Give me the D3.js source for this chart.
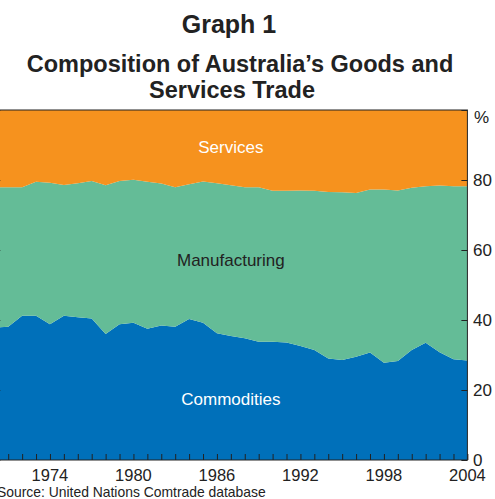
<!DOCTYPE html>
<html><head><meta charset="utf-8">
<script src="https://cdn.jsdelivr.net/npm/d3@7"></script>
<style>
body{margin:0;background:#fff;overflow:hidden}
text{font-family:"Liberation Sans",Arial,sans-serif;fill:#222}
</style></head>
<body><svg id="chart"></svg>
<script>
// shares of total trade, per cent
const years=d3.range(1970,2005);
const commodities=[37.8,38.1,41.2,41.2,38.8,41.2,40.8,40.4,36.0,38.8,39.2,37.5,38.4,38.1,40.3,39.2,36.2,35.4,34.8,33.8,33.8,33.6,32.6,31.4,29.0,28.6,29.5,30.7,27.8,28.3,31.4,33.5,30.8,28.8,28.4];
const manufacturing=[40.1,39.8,36.7,38.3,40.4,37.4,38.3,39.3,42.5,40.9,40.9,42.0,40.6,39.8,38.5,40.4,42.9,43.1,43.1,44.1,43.1,43.3,44.4,45.5,47.6,47.9,46.8,46.6,49.5,48.7,46.4,44.7,47.6,49.4,49.8];
const services=[22.1,22.1,22.1,20.5,20.8,21.4,20.9,20.3,21.5,20.3,19.9,20.5,21.0,22.1,21.2,20.4,20.9,21.5,22.1,22.1,23.1,23.1,23.0,23.1,23.4,23.5,23.7,22.7,22.7,23.0,22.2,21.8,21.6,21.8,21.8];
const seriesNames=['Commodities','Manufacturing','Services'];
const yTicks=[0,20,40,60,80,100];
const yearLabels=[1974,1980,1986,1992,1998,2004];

const W=495,H=499;
const svg=d3.select('#chart').attr('width',W).attr('height',H);
const x=d3.scaleLinear().domain([1970,2004]).range([-5.7,467.4]);
const y=d3.scaleLinear().domain([0,100]).range([460,110]);
const colors={Commodities:'#0070ba',Manufacturing:'#64bc97',Services:'#f6921e'};

const rows=years.map((yr,i)=>({year:yr,Commodities:commodities[i],Manufacturing:manufacturing[i],Services:services[i]}));
const stack=d3.stack().keys(seriesNames)(rows);
const area=d3.area().x(d=>x(d.data.year)).y0(d=>y(d[0])).y1(d=>y(d[1]));

svg.append('clipPath').attr('id','clip').append('rect').attr('x',x(1970)).attr('y',y(100)).attr('width',x(2004)-x(1970)).attr('height',y(0)-y(100));
svg.append('g').attr('clip-path','url(#clip)').selectAll('path').data(stack).join('path')
  .attr('fill',d=>colors[d.key]).attr('d',area);

// frame
svg.append('rect').attr('x',x(1970)).attr('y',y(100)).attr('width',x(2004)-x(1970)).attr('height',y(0)-y(100))
  .attr('fill','none').attr('stroke','#222').attr('stroke-width',1);

// year ticks, inward
svg.append('g').attr('transform','translate(0,'+y(0)+')')
  .call(d3.axisBottom(x).tickValues(years).tickSize(-6).tickFormat(''))
  .call(g=>{g.select('.domain').remove(); g.selectAll('line').attr('stroke','#222');});
svg.append('g').selectAll('text').data(yearLabels).join('text')
  .attr('x',d=>x(d)).attr('y',481).attr('text-anchor','middle').style('font-size','16.5px').text(d=>d);

// right axis
svg.append('g').attr('transform','translate('+x(2004)+',0)')
  .call(d3.axisRight(y).tickValues(yTicks).tickSize(-6).tickFormat(''))
  .call(g=>{g.select('.domain').remove(); g.selectAll('line').attr('stroke','#222');});
svg.append('g').selectAll('text').data(yTicks.slice(0,5)).join('text')
  .attr('x',473).attr('y',d=>y(d)).attr('dy','0.36em').style('font-size','17px').text(d=>d);
svg.append('text').attr('x',474).attr('y',123).style('font-size','17px').text('%');
// left axis ticks (mostly off the page)
svg.append('g').attr('transform','translate('+x(1970)+',0)')
  .call(d3.axisLeft(y).tickValues(yTicks).tickSize(-6).tickFormat(''))
  .call(g=>{g.select('.domain').remove(); g.selectAll('line').attr('stroke','#222');});

// series labels
const mid=(x(1970)+x(2004))/2;
svg.append('text').attr('x',mid).attr('y',153).attr('text-anchor','middle').style('font-size','17px').style('fill','#fff').text('Services');
svg.append('text').attr('x',mid).attr('y',266).attr('text-anchor','middle').style('font-size','17px').text('Manufacturing');
svg.append('text').attr('x',mid).attr('y',405).attr('text-anchor','middle').style('font-size','17px').style('fill','#fff').text('Commodities');

// titles
svg.append('text').attr('x',229).attr('y',33).attr('text-anchor','middle').style('font-size','25px').style('font-weight','bold').text('Graph 1');
svg.append('text').attr('x',240).attr('y',72).attr('text-anchor','middle').style('font-size','23.5px').style('font-weight','bold').text('Composition of Australia’s Goods and');
svg.append('text').attr('x',232).attr('y',98).attr('text-anchor','middle').style('font-size','23.5px').style('font-weight','bold').text('Services Trade');
svg.append('text').attr('x',-3).attr('y',497).style('font-size','13.9px').text('Source: United Nations Comtrade database');
</script></body></html>
